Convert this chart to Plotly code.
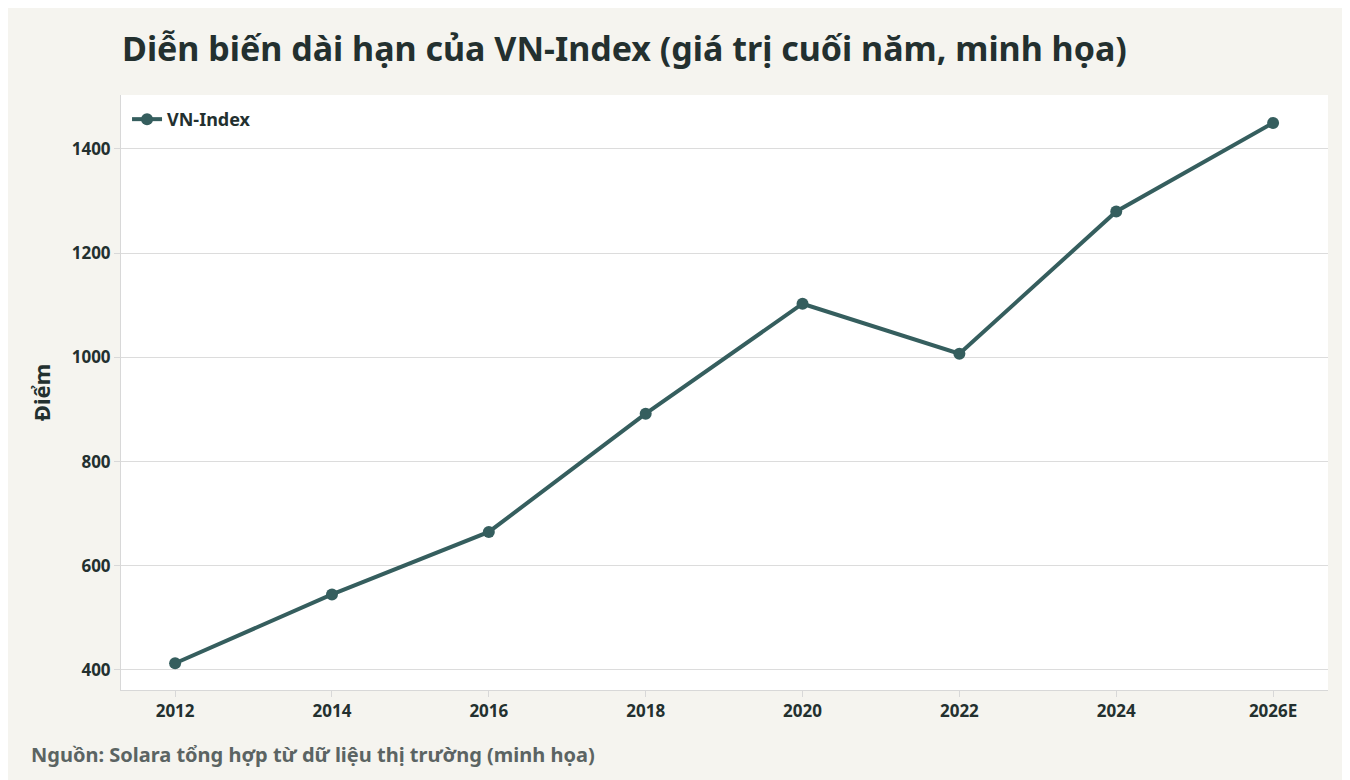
import plotly.graph_objects as go

years = ["2012", "2014", "2016", "2018", "2020", "2022", "2024", "2026E"]
vn_index = [413, 545, 665, 892, 1103, 1007, 1280, 1450]

line_color = "#355e5e"
text_color = "#23302f"

fig = go.Figure()
fig.add_trace(go.Scatter(
    x=years, y=vn_index, mode="lines+markers", name="<b>VN-Index</b>",
    line=dict(color=line_color, width=4),
    marker=dict(color=line_color, size=12),
))

fig.update_layout(
    width=1350, height=780,
    paper_bgcolor="#f5f4ef", plot_bgcolor="white",
    font=dict(family="Noto Sans, Open Sans, sans-serif", color=text_color, size=16),
    margin=dict(l=113, r=30, t=87, b=98),
    title=dict(text="<b>Diễn biến dài hạn của VN-Index (giá trị cuối năm, minh họa)</b>",
               x=114 / 1350, xanchor="left", y=0.947, yanchor="middle",
               font=dict(size=34, color=text_color)),
    showlegend=True,
    legend=dict(x=0.005, y=0.99, xanchor="left", yanchor="top",
                bgcolor="rgba(0,0,0,0)", font=dict(size=18, color=text_color)),
    xaxis=dict(type="category", range=[-0.345, 7.35], showgrid=False,
               showline=True, linecolor="#d8d8d8", ticks="outside", ticklen=6,
               tickcolor="#d8d8d8",
               tickfont=dict(size=17, color=text_color, weight="bold")),
    yaxis=dict(range=[361.6, 1503.6], tickvals=[400, 600, 800, 1000, 1200, 1400],
               gridcolor="#dcdcdc", showline=True, linecolor="#d8d8d8",
               ticks="outside", ticklen=6, tickcolor="#d8d8d8", zeroline=False,
               title=dict(text="<b>Điểm</b>", font=dict(size=22, color=text_color), standoff=14),
               tickfont=dict(size=17, color=text_color, weight="bold")),
)

fig.add_annotation(text="<b>Nguồn: Solara tổng hợp từ dữ liệu thị trường (minh họa)</b>",
                   xref="paper", yref="paper", x=-92 / 1207, y=-0.108, xanchor="left",
                   yanchor="middle", showarrow=False,
                   font=dict(size=20, color="#5b6463"))

fig.write_html("out.html")
